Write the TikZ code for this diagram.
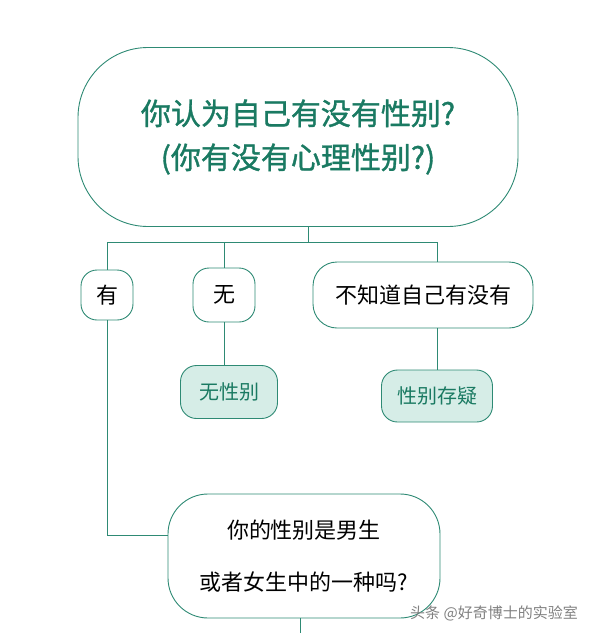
\documentclass[tikz,border=0pt]{standalone}
\usepackage{fontspec}
\setmainfont{Noto Sans CJK SC}
\newfontfamily\medfont[FakeBold=1.2]{Noto Sans CJK SC}
\usetikzlibrary{positioning,shapes.geometric}
\definecolor{lineteal}{HTML}{2E8A74}
\definecolor{textteal}{HTML}{1A7A62}
\definecolor{filteal}{HTML}{D6EDE7}
\tikzset{
  bubble/.style={draw=lineteal, line width=0.9pt, rounded corners=16pt, inner sep=0pt, align=center},
  answer/.style={bubble, font=\fontsize{20}{24}\selectfont, text=textteal, fill=filteal},
  link/.style={draw=lineteal, line width=0.9pt}
}
\begin{document}
\begin{tikzpicture}[x=1pt, y=-1pt]
    \useasboundingbox (0,0) rectangle (591,633);

    % Question
    \node[bubble, rounded corners=70pt, minimum width=440pt, minimum height=179pt,
          text=textteal, font=\medfont\fontsize{30}{44}\selectfont]
        (q1) at (298,137) {你认为自己有没有性别?\\(你有没有心理性别?)};

    % Choices
    \node[bubble, minimum width=52pt, minimum height=50pt, font=\fontsize{22}{26}\selectfont]
        (yes) at (107,295) {有};
    \node[bubble, minimum width=62pt, minimum height=54pt, font=\fontsize{22}{26}\selectfont]
        (no) at (224,295) {无};
    \node[bubble, rounded corners=24pt, minimum width=220pt, minimum height=66pt, font=\fontsize{22}{26}\selectfont]
        (unsure) at (423,295) {不知道自己有没有};

    % Results
    \node[answer, minimum width=97pt, minimum height=53pt] (none) at (229,392) {无性别};
    \node[answer, minimum width=111pt, minimum height=52pt] (doubt) at (437,396) {性别存疑};

    % Next question
    \node[bubble, rounded corners=40pt, minimum width=272pt, minimum height=124pt, font=\fontsize{22}{52}\selectfont]
        (q2) at (304,556) {你的性别是男生\\或者女生中的一种吗?};

    % Connectors
    \coordinate (split) at (308,242);
    \coordinate (next) at (300,633);
    \draw[link] (split |- q1.south) -- (split);
    \draw[link] (yes.north) -- (yes.north |- split) -- (doubt.north |- split) -- (doubt.north |- unsure.north);
    \draw[link] (no.north) -- (no.north |- split);
    \draw[link] (no.south) -- (no.south |- none.north);
    \draw[link] (doubt.north |- unsure.south) -- (doubt.north);
    \draw[link] (yes.south) |- ([yshift=21pt]q2.west);
    \draw[link] (next |- q2.south) -- (next);

    % Watermark
    \node[text=gray, font=\fontsize{15}{17}\selectfont] (mark) at (494,613) {头条 @好奇博士的实验室};
\end{tikzpicture}
\end{document}
